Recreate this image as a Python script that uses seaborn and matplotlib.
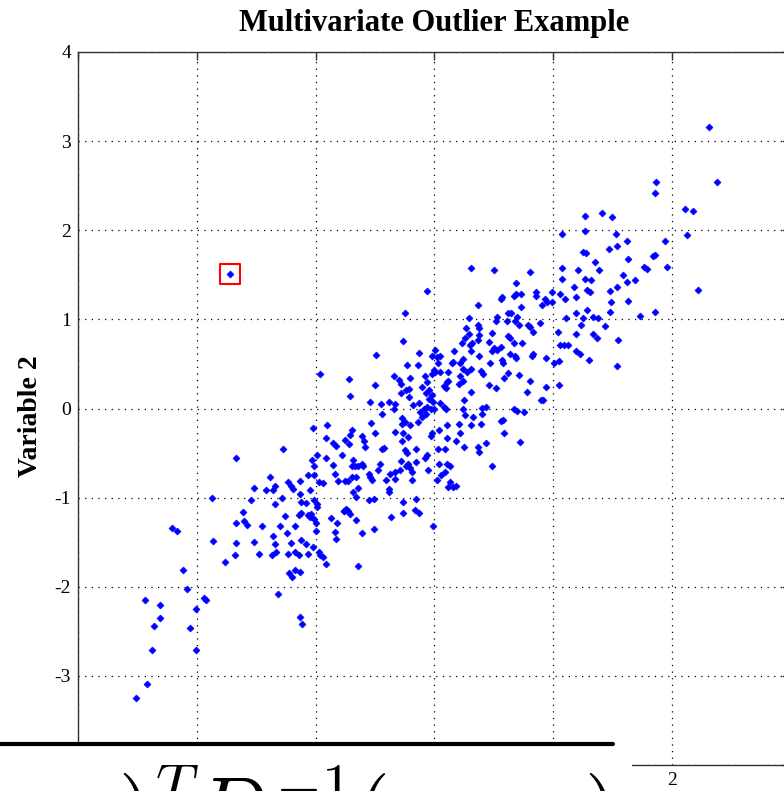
import numpy as np
import pandas as pd
import matplotlib
matplotlib.use("Agg")
import matplotlib.pyplot as plt
import seaborn as sns
from matplotlib.patches import Rectangle
from matplotlib.lines import Line2D

# ---------------- data (Variable 1, Variable 2) ----------------
lower_tail = [
    (-1.67, -0.55), (-1.87, -1.00), (-2.21, -1.34), (-2.17, -1.37), (-2.12, -1.81), (-2.08, -2.03),
    (-2.44, -2.15), (-2.31, -2.20), (-2.31, -2.35), (-2.36, -2.44), (-2.38, -2.71), (-2.06, -2.46),
    (-2.01, -2.25), (-2.01, -2.71), (-1.94, -2.13), (-1.92, -2.15), (-2.42, -3.09), (-2.51, -3.25),
    (-1.76, -1.72), (-1.86, -1.49), (-1.67, -1.29), (-1.60, -1.26), (-1.58, -1.31), (-1.67, -1.51),
    (-1.68, -1.64), (-1.52, -1.50), (-1.48, -1.63), (-1.45, -1.32), (-1.61, -1.16), (-1.54, -1.03),
    (-1.52, -0.89), (-1.42, -0.91), (-1.36, -0.91), (-1.34, -0.87), (-1.38, -0.77), (-1.34, -1.07),
    (-1.28, -1.00), (-1.26, -1.21), (-1.30, -1.32), (-1.36, -1.43), (-1.34, -1.52), (-1.33, -1.61),
    (-1.37, -1.64), (-1.24, -1.40), (-1.21, -1.51), (-1.23, -1.63), (-1.17, -1.32), (-1.17, -1.61),
    (-1.14, -1.64), (-1.12, -1.47), (-1.08, -1.52), (-1.06, -1.63), (-1.22, -1.85), (-1.20, -1.89),
    (-1.17, -1.81), (-1.13, -1.83), (-1.32, -2.08), (-1.13, -2.34), (-1.11, -2.42), (-1.23, -0.82),
    (-1.21, -0.87), (-1.19, -0.90), (-1.13, -0.81), (-1.13, -0.96), (-1.05, -0.91), (-1.12, -1.05),
    (-1.08, -1.06), (-1.12, -1.17), (-1.14, -1.19), (-1.06, -1.19), (-1.05, -1.22), (-1.04, -1.18),
    (-1.01, -1.24), (-1.00, -1.29), (-1.00, -1.37), (-1.01, -1.03), (-0.99, -1.07), (-0.99, -1.10),
    (-1.02, -1.55), (-0.97, -1.61), (-0.96, -1.64), (-0.94, -1.67), (-0.91, -1.75), (-0.87, -1.23),
    (-0.82, -1.29), (-0.84, -1.39), (-0.83, -1.46), (-0.99, -0.52), (-0.91, -0.55), (-0.85, -0.63),
    (-0.78, -0.52), (-1.03, -0.58), (-1.01, -0.64), (-1.06, -0.75), (-1.01, -0.75), (-0.97, -0.82),
    (-0.94, -0.84), (-0.84, -0.74), (-0.81, -0.81), (-0.75, -0.81), (-0.76, -1.15), (-0.74, -1.13),
]

lower_core = [
    (-1.02, -0.22), (-0.90, -0.18), (-0.91, -0.33), (-0.85, -0.39), (-0.83, -0.42), (-1.27, -0.46),
    (-0.75, -0.35), (-0.72, -0.40), (-0.69, -0.24), (-0.71, -0.30), (-0.61, -0.31), (-0.59, -0.36),
    (-0.58, -0.43), (-0.53, -0.16), (-0.50, -0.28), (-0.44, -0.46), (-0.42, -0.44), (-0.33, -0.26),
    (-0.27, -0.17), (-0.20, -0.18), (-0.26, -0.28), (-0.22, -0.32), (-0.27, -0.36), (-0.25, -0.47),
    (-0.23, -0.50), (-0.15, -0.45), (-0.14, -0.15), (-0.02, -0.28), (-0.03, -0.31), (0.04, -0.24),
    (0.11, -0.18), (0.11, -0.33), (0.18, -0.36), (0.03, -0.46), (0.09, -0.46), (-0.06, -0.52),
    (-0.08, -0.55), (-0.68, -0.58), (-0.64, -0.64), (-0.69, -0.65), (-0.67, -0.65), (-0.61, -0.62),
    (-0.60, -0.65), (-0.55, -0.73), (-0.54, -0.77), (-0.52, -0.80), (-0.69, -0.77), (-0.66, -0.77),
    (-0.73, -0.81), (-0.47, -0.69), (-0.46, -0.62), (-0.41, -0.80), (-0.38, -0.90), (-0.38, -0.94),
    (-0.37, -0.73), (-0.33, -0.71), (-0.29, -0.69), (-0.24, -0.65), (-0.20, -0.67), (-0.19, -0.71),
    (-0.33, -0.79), (-0.28, -0.59), (-0.22, -0.62), (-0.15, -0.60), (-0.05, -0.69), (-0.19, -0.80),
    (-0.64, -0.89), (-0.68, -0.94), (-0.66, -0.99), (-0.55, -1.03), (-0.51, -1.01), (-0.73, -1.15),
    (-0.76, -1.15), (-0.71, -1.18), (-0.66, -1.25), (-0.61, -1.40), (-0.51, -1.35), (-0.36, -1.22),
    (-0.26, -1.05), (-0.26, -1.17), (-0.15, -1.02), (-0.16, -1.14), (-0.13, -1.17), (-0.01, -1.32),
    (-0.64, -1.77), (0.02, -0.80), (0.06, -0.75), (0.09, -0.71), (0.13, -0.82), (0.16, -0.88),
    (0.04, -0.62), (0.11, -0.62), (0.13, -0.65), (0.12, -0.88), (0.18, -0.87),
]

middle_core = [
    (-0.06, 1.32), (-0.25, 1.07), (-0.26, 0.76), (-0.49, 0.60), (-0.96, 0.39), (-0.72, 0.33),
    (-0.71, 0.14), (-0.50, 0.26), (-0.54, 0.07), (-0.45, 0.05), (-0.44, -0.06), (-0.38, 0.07),
    (-0.34, 0.00), (-0.33, 0.05), (-0.34, 0.37), (-0.30, 0.32), (-0.28, 0.28), (-0.23, 0.49),
    (-0.14, 0.49), (-0.13, 0.62), (-0.20, 0.34), (-0.28, 0.17), (-0.24, 0.21), (-0.21, 0.13),
    (-0.21, 0.22), (-0.27, -0.11), (-0.25, -0.15), (-0.18, 0.04), (-0.13, 0.06), (-0.12, -0.04),
    (-0.09, -0.01), (-0.10, -0.09), (-0.07, -0.06), (-0.06, 0.02), (-0.03, 0.00), (0.00, 0.00),
    (-0.08, 0.36), (-0.06, 0.30), (-0.10, 0.24), (-0.07, 0.17), (-0.04, 0.21), (-0.02, 0.15),
    (-0.04, 0.11), (-0.01, 0.07), (-0.02, 0.39), (0.00, 0.43), (0.01, 0.41), (0.01, 0.66),
    (0.02, 0.58), (-0.02, 0.59), (0.03, 0.51), (0.25, -0.43), (0.37, -0.43), (0.38, -0.49),
    (0.44, -0.39), (0.49, -0.65), (0.56, -0.14), (0.59, -0.27), (0.72, -0.38), (0.22, -0.27),
]

upper_core = [
    (1.87, 2.54), (1.86, 2.42), (2.11, 2.24), (2.13, 1.95), (1.94, 1.88), (1.84, 1.71), (1.86, 1.72),
    (1.96, 1.59), (1.77, 1.59), (1.79, 1.57), (1.63, 1.68), (1.53, 1.96), (1.50, 2.15), (1.41, 2.19),
    (1.27, 2.16), (1.27, 1.99), (1.08, 1.96), (1.54, 1.82), (1.47, 1.79), (1.62, 1.88), (1.25, 1.76),
    (1.28, 1.74), (1.35, 1.64), (1.39, 1.55), (1.59, 1.50), (1.62, 1.42), (1.69, 1.44), (1.54, 1.36),
    (1.48, 1.32), (1.49, 1.19), (1.48, 1.08), (1.63, 1.21), (1.73, 1.04), (1.86, 1.08), (1.21, 1.55),
    (1.08, 1.58), (1.08, 1.45), (1.27, 1.45), (1.32, 1.44), (1.18, 1.36), (1.29, 1.33), (1.31, 1.31),
    (1.19, 1.25), (1.10, 1.23), (1.06, 1.28), (1.29, 1.10), (1.19, 1.07), (1.25, 1.01), (1.34, 1.03),
    (1.38, 1.01), (1.24, 0.94), (1.44, 0.93), (1.11, 1.01), (1.19, 0.84), (1.34, 0.84), (1.37, 0.79),
    (1.55, 0.77), (1.04, 0.86), (1.06, 0.71), (1.09, 0.71), (1.13, 0.71), (1.19, 0.64), (1.23, 0.61),
    (1.30, 0.54), (1.54, 0.48), (1.05, 0.53), (1.01, 0.51), (1.05, 0.26), (0.94, 0.24), (0.90, 0.09),
    (0.92, 0.09), (0.78, 0.18), (0.81, 0.31), (0.71, 0.38), (0.62, 0.40), (0.59, 0.34), (0.52, 0.23),
    (0.46, 0.26), (0.39, 0.42), (0.41, 0.39), (0.31, 0.19), (0.25, 0.10), (0.24, -0.01), (0.40, 0.01),
    (0.44, 0.02), (0.40, -0.06), (0.33, -0.09), (0.26, -0.07), (0.21, -0.17), (0.67, -0.01),
    (0.70, -0.03), (0.76, -0.04), (0.58, -0.13), (0.94, 0.57), (0.82, 0.59), (0.83, 0.61), (0.68, 0.59),
    (0.64, 0.61), (0.69, 0.57), (0.57, 0.54), (0.58, 0.51), (0.47, 0.51), (0.49, 0.64), (0.50, 0.68),
    (0.53, 0.66), (0.46, 0.75), (0.56, 0.69), (0.62, 0.81), (0.64, 0.79), (0.67, 0.73), (0.74, 0.74),
    (0.81, 0.92), (0.79, 0.94), (0.83, 0.86), (0.89, 0.96), (0.38, 0.59), (0.30, 0.71), (0.32, 0.74),
    (0.31, 0.64), (0.37, 0.77), (0.38, 0.83), (0.23, 0.73), (0.26, 0.79), (0.29, 0.84), (0.27, 0.90),
    (0.17, 0.64), (0.37, 0.94), (0.38, 0.90), (0.29, 1.02), (0.49, 0.85), (0.53, 1.03), (0.52, 0.98),
    (0.62, 1.07), (0.65, 1.07), (0.61, 0.98), (0.68, 0.98), (0.71, 0.94), (0.70, 1.03), (0.37, 1.16),
    (0.56, 1.23), (0.57, 1.25), (0.67, 1.26), (0.69, 1.28), (0.73, 1.28), (0.73, 1.14), (0.69, 1.41),
    (0.81, 1.53), (0.86, 1.31), (0.86, 1.26), (0.93, 1.23), (0.95, 1.20), (0.91, 1.16), (0.99, 1.31),
    (0.99, 1.19), (0.31, 1.58), (0.50, 1.55), (0.15, 0.51), (0.16, 0.52), (0.24, 0.56), (0.22, 0.51),
    (0.24, 0.44), (0.28, 0.41), (0.31, 0.44), (0.12, 0.41), (0.11, 0.30), (0.22, 0.36), (0.21, 0.28),
    (0.24, 0.31), (0.08, 0.25), (0.10, 0.23), (0.12, 0.31), (0.05, 0.41), (0.05, 0.59), (0.05, 0.06),
    (0.08, 0.02), (0.10, -0.01), (0.31, -0.19), (0.39, -0.17),
]

upper_tail = [(2.31, 3.16), (2.38, 2.54), (2.18, 2.22), (2.22, 1.33)]

# the single point flagged by the red box
outlier = [(-1.72, 1.51)]

title_text = "Multivariate Outlier Example"
ylabel_text = "Variable 2"
formula_text = r"$(x-\mu)^T D^{-1}(x-\mu)$"
x_ticks = [-3, -2, -1, 0, 1, 2, 3]
# only the "2" label shows; the others sit under the pasted formula strip
x_tick_labels = ["", "", "", "", "", "2", ""]
y_ticks = [-4, -3, -2, -1, 0, 1, 2, 3, 4]
y_tick_labels = ["", "-3", "-2", "-1", "0", "1", "2", "3", "4"]

# ---------------- build table ----------------
all_pts = lower_tail + lower_core + middle_core + upper_core + upper_tail + outlier
df = pd.DataFrame(all_pts, columns=["Variable 1", "Variable 2"])
df_out = pd.DataFrame(outlier, columns=["Variable 1", "Variable 2"])

# ---------------- style ----------------
sns.set_style("white")
plt.rcParams["font.family"] = ["Liberation Serif", "DejaVu Serif"]
plt.rcParams["axes.unicode_minus"] = False
plt.rcParams["mathtext.fontset"] = "cm"

fig = plt.figure(figsize=(7.84, 7.91), dpi=100)
# axes run past the right edge of the picture (cropped look)
ax = fig.add_axes([78 / 784, 1 - 765 / 791, 712.5 / 784, 713 / 791])

sns.scatterplot(data=df, x="Variable 1", y="Variable 2", marker="D", s=13,
                color="#0000ff", edgecolor="#0000ff", linewidth=0.4, ax=ax, zorder=3)
sns.scatterplot(data=df_out, x="Variable 1", y="Variable 2", marker="s", s=200,
                facecolor="none", edgecolor="#ff0000", linewidth=1.5, ax=ax, zorder=4)

ax.set_xlim(-3, 3)
ax.set_ylim(-4, 4)
ax.set_xticks(x_ticks)
ax.set_xticklabels(x_tick_labels)
ax.set_yticks(y_ticks)
ax.set_yticklabels(y_tick_labels)
ax.grid(True, color="black", linestyle=(0, (1, 4.3)), linewidth=0.9)
ax.set_axisbelow(True)
ax.tick_params(direction="in", length=6, width=1, color="#333333", top=True, right=True,
               labelsize=14, pad=5, labelcolor="black")
for sp in ax.spines.values():
    sp.set_color("#333333")
    sp.set_linewidth(1)

ax.set_title(title_text, fontsize=22, fontweight="bold", pad=15, color="black")
ax.set_xlabel("")
ax.set_ylabel(ylabel_text, fontsize=20, fontweight="bold", color="black")
ax.yaxis.set_label_coords(-0.049, 0.49)

# pasted formula strip covering the bottom of the plot
fig.add_artist(Rectangle((0, 0), 632 / 784, 46 / 791, transform=fig.transFigure,
                         facecolor="white", edgecolor="none", zorder=10))
fig.add_artist(Line2D([0, 613 / 784], [1 - 744 / 791, 1 - 744 / 791], color="black",
                      linewidth=3, transform=fig.transFigure, zorder=11))
fig.text(611 / 784, 1 - 838 / 791, formula_text, fontsize=61, ha="right", va="baseline",
         color="black", zorder=12)

fig.savefig("out.png", dpi=100)
